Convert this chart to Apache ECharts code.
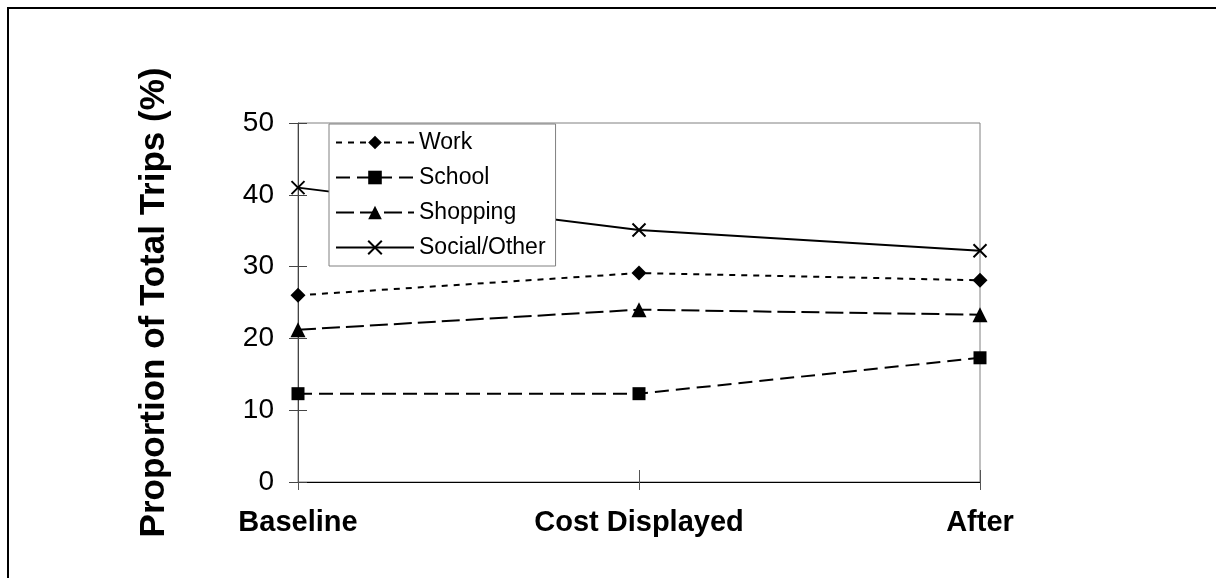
<!DOCTYPE html>
<html>
<head>
<meta charset="utf-8">
<script src="https://cdn.jsdelivr.net/npm/echarts@6/dist/echarts.min.js"></script>
<style>
html,body{margin:0;padding:0;background:#fff;}
#chart{width:1216px;height:578px;}
</style>
</head>
<body>
<div id="chart"></div>
<script>
var categories = ['Baseline', 'Cost Displayed', 'After'];
var work = [26, 29.1, 28.1];
var school = [12.3, 12.3, 17.3];
var shopping = [21.2, 24, 23.3];
var social = [41, 35.1, 32.2];
var yTicks = [0, 10, 20, 30, 40, 50];

var FONT = '"Liberation Sans", Arial, sans-serif';
var chart = echarts.init(document.getElementById('chart'), null, {renderer: 'canvas'});

var option = {
  backgroundColor: '#fff',
  animation: false,
  graphic: [{
    type: 'rect',
    shape: {x: 8, y: 8, width: 1400, height: 800},
    style: {fill: 'none', stroke: '#000', lineWidth: 2},
    silent: true, z: -1
  }],
  grid: {
    left: 298, top: 123, right: 236, bottom: 96,
    show: true, borderColor: '#808080', borderWidth: 1, backgroundColor: 'transparent'
  },
  legend: {
    orient: 'vertical',
    left: 329, top: 124,
    backgroundColor: '#fff',
    borderColor: '#808080', borderWidth: 1,
    padding: [7, 10, 7, 6],
    itemWidth: 78, itemHeight: 17, itemGap: 12,
    textStyle: {fontFamily: FONT, fontSize: 23, color: '#000'},
    data: ['Work', 'School', 'Shopping', 'Social/Other']
  },
  xAxis: [{
    type: 'category',
    data: categories,
    boundaryGap: false,
    axisLine: {show: true, lineStyle: {color: '#000', width: 1}},
    axisTick: {show: true, length: 8, inside: false, lineStyle: {color: '#555', width: 1}},
    axisLabel: {fontFamily: FONT, fontSize: 29, fontWeight: 'bold', color: '#000', margin: 26},
    splitLine: {show: false}
  }, {
    type: 'category',
    data: categories,
    boundaryGap: false,
    position: 'bottom',
    axisLine: {show: false},
    axisTick: {show: true, length: 12, inside: true, lineStyle: {color: '#555', width: 1}},
    axisLabel: {show: false},
    splitLine: {show: false}
  }],
  yAxis: [{
    type: 'value',
    min: 0, max: 50, interval: 10,
    position: 'left',
    name: 'Proportion of Total Trips (%)',
    nameLocation: 'middle',
    nameRotate: 90,
    nameGap: 126,
    nameTextStyle: {fontFamily: FONT, fontSize: 35, fontWeight: 'bold', color: '#000'},
    axisLine: {show: true, lineStyle: {color: '#444', width: 1}},
    axisTick: {show: true, length: 9, inside: false, lineStyle: {color: '#444', width: 1}},
    axisLabel: {fontFamily: FONT, fontSize: 28, color: '#000', margin: 24,
      formatter: function (v) { return yTicks.indexOf(v) >= 0 ? String(v) : ''; }},
    splitLine: {show: false}
  }, {
    type: 'value',
    min: 0, max: 50, interval: 10,
    position: 'left',
    axisLine: {show: false},
    axisTick: {show: true, length: 9, inside: true, lineStyle: {color: '#444', width: 1}},
    axisLabel: {show: false},
    splitLine: {show: false}
  }],
  series: [{
    name: 'Work', type: 'line', data: work,
    symbol: 'diamond', symbolSize: 15,
    lineStyle: {color: '#000', width: 2, type: [6, 6]},
    itemStyle: {color: '#000'}
  }, {
    name: 'School', type: 'line', data: school,
    symbol: 'rect', symbolSize: 13,
    lineStyle: {color: '#000', width: 2, type: [14, 7]},
    itemStyle: {color: '#000'}
  }, {
    name: 'Shopping', type: 'line', data: shopping,
    symbol: 'triangle', symbolSize: 15,
    lineStyle: {color: '#000', width: 2, type: [18, 6]},
    itemStyle: {color: '#000'}
  }, {
    name: 'Social/Other', type: 'line', data: social,
    symbol: 'path://M0,0L10,10M10,0L0,10', symbolSize: 13,
    lineStyle: {color: '#000', width: 2, type: 'solid'},
    itemStyle: {color: 'none', borderColor: '#000', borderWidth: 2}
  }]
};
chart.setOption(option);
</script>
</body>
</html>
